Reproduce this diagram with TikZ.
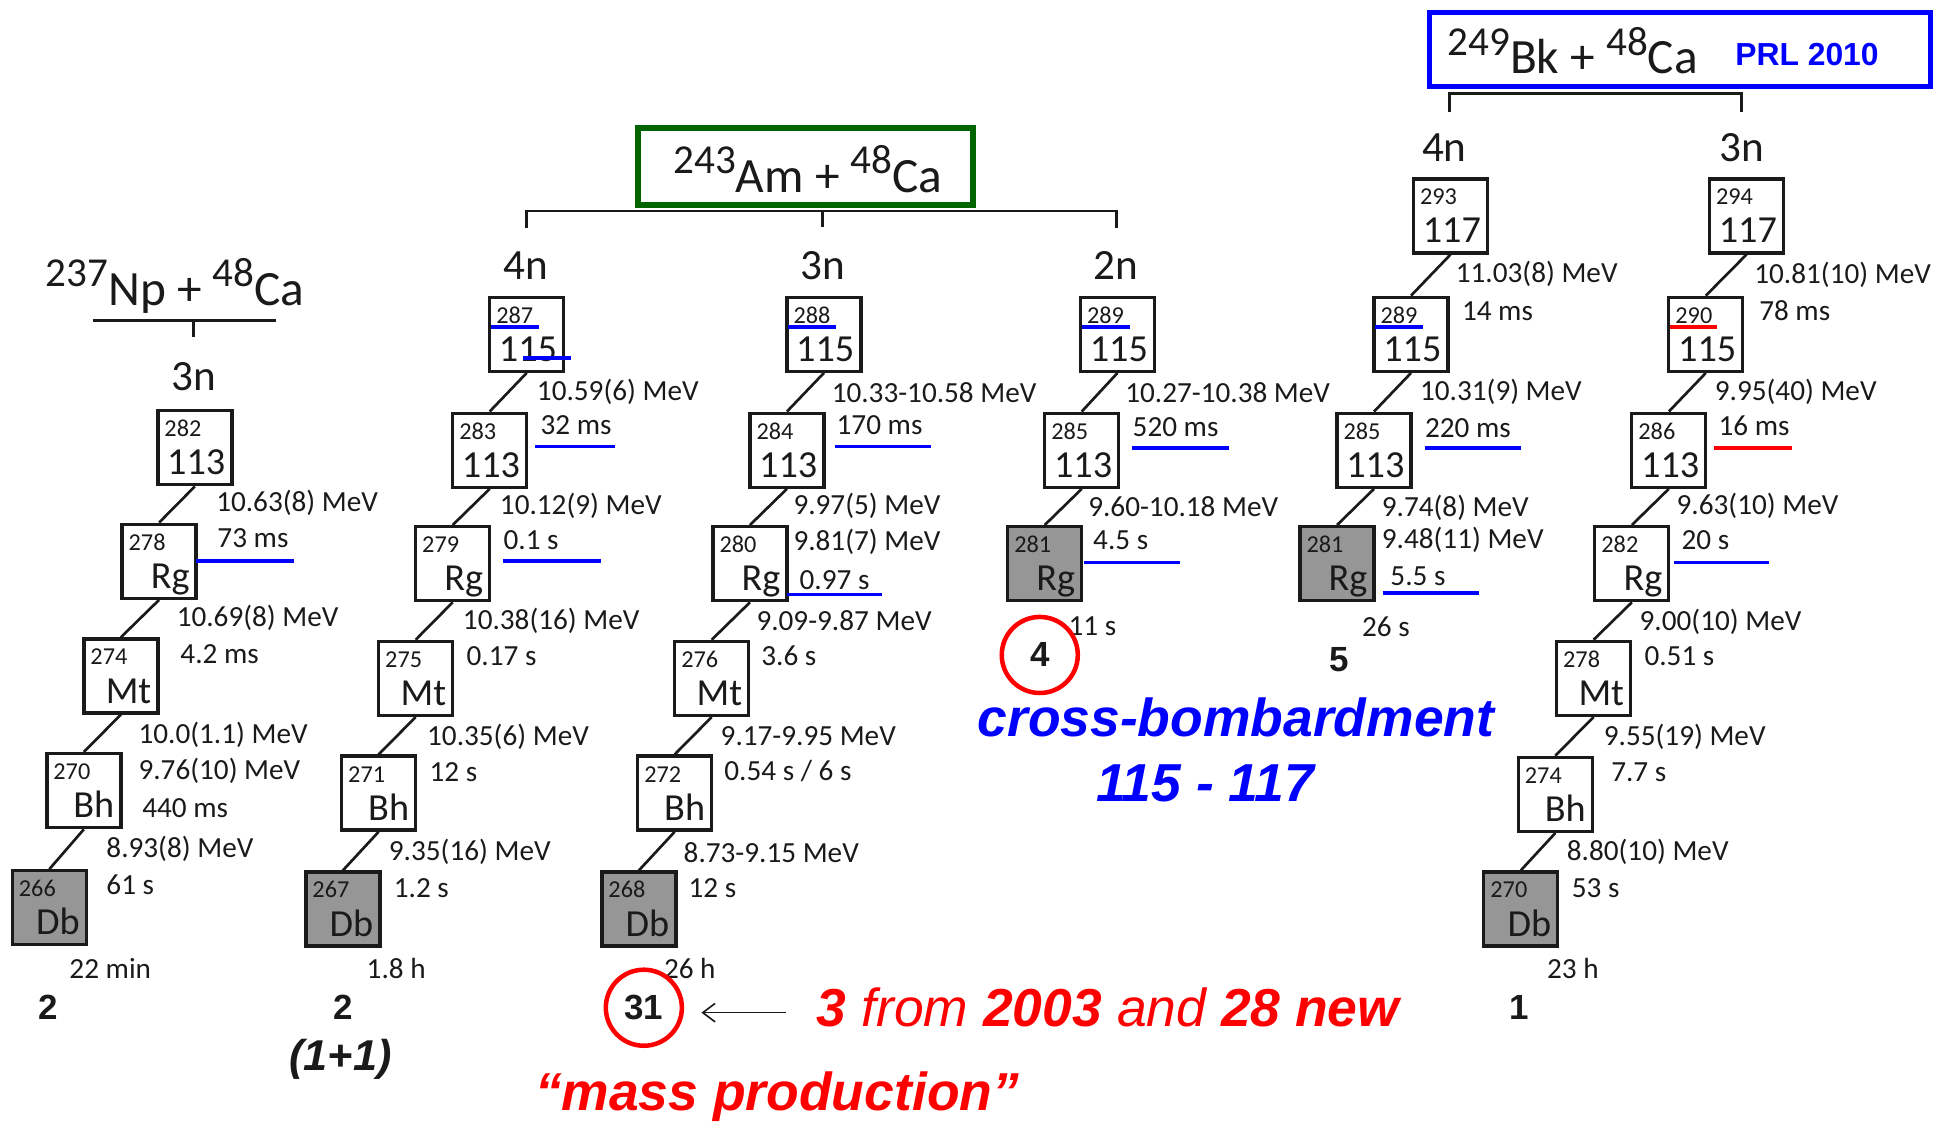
\documentclass[tikz,border=0pt]{standalone}
\usepackage{fontspec}
\setmainfont{Carlito}
\newfontfamily\arialf{Liberation Sans}
\usetikzlibrary{arrows.meta}
\definecolor{boxgray}{RGB}{150,150,150}
\definecolor{dgreen}{RGB}{0,100,0}
\definecolor{pblue}{RGB}{0,0,255}
\definecolor{pred}{RGB}{255,0,0}
\definecolor{ink}{RGB}{26,26,26}
\newcommand{\isot}[1]{{\fontsize{20}{22}\selectfont\raisebox{9pt}{#1}}}
\newcommand{\nuc}[6][nbox]{%
  \node[#1] (#2) at (#3+30,#4+30) {};
  \node[massn] (#2m) at (#3+5,#4+21) {#5};
  \node[elemn] (#2e) at (#3+55,#4+52) {#6};}
\newcommand{\lab}[4]{\node[lbl] (#1) at (#2,#3) {#4};}
\begin{document}
\begin{tikzpicture}[x=0.6pt,y=-0.6pt,
  nbox/.style={draw=ink, line width=1.6pt, minimum width=36pt, minimum height=36pt, inner sep=0pt},
  gbox/.style={nbox, fill=boxgray},
  massn/.style={anchor=base west, inner sep=0pt, text=ink, font=\fontsize{11.8}{13}\selectfont},
  elemn/.style={anchor=base east, inner sep=0pt, text=ink, font=\fontsize{18.6}{20}\selectfont},
  lbl/.style={anchor=west, inner sep=0pt, text=ink, font=\fontsize{14.2}{16}\selectfont},
  chn/.style={line width=1.3pt, draw=ink},
  bl/.style={line width=1.8pt, draw=pblue},
  rl/.style={line width=1.8pt, draw=pred},
  brk/.style={line width=1.3pt, draw=ink},
  chan/.style={font=\fontsize{21}{24}\selectfont, inner sep=0pt, text=ink},
  numb/.style={font=\arialf\bfseries\fontsize{17}{19}\selectfont, inner sep=0pt, text=ink},
  ttl/.style={font=\fontsize{24}{26}\selectfont, inner sep=0pt, text=ink},
  big/.style={font=\arialf\bfseries\itshape\fontsize{26}{30}\selectfont, inner sep=0pt},
  rc/.style={circle, draw=pred, line width=2.2pt, minimum size=37pt, inner sep=0pt, numb}
]
\useasboundingbox (0,0) rectangle (1568,910);

% ---------- titles and brackets ----------
\node[ttl] (np) at (142,232) {\isot{237}Np + \isot{48}Ca};
\coordinate (npL) at (75,260); \coordinate (npR) at (224,260);
\coordinate (npT) at (157,260); \coordinate (npB) at (157,273);
\draw[brk] (npL) -- (npR); \draw[brk] (npT) -- (npB);
\node[chan] (np3) at (157,305) {3n};

\node[draw=dgreen, line width=3pt, minimum width=163.2pt, minimum height=37.2pt, inner sep=0pt] (amb) at (653,135) {};
\node[ttl] (am) at (655,137) {\isot{243}Am + \isot{48}Ca};
\coordinate (amL) at (427,171); \coordinate (amR) at (905,171); \coordinate (amM) at (667,171);
\coordinate (amL2) at (427,185); \coordinate (amR2) at (905,185); \coordinate (amM2) at (667,184);
\draw[brk] (amL2) -- (amL) -- (amR) -- (amR2); \draw[brk] (amM) -- (amM2);
\node[chan] (am4) at (426,215) {4n};
\node[chan] (am3) at (667,215) {3n};
\node[chan] (am2) at (905,215) {2n};

\node[draw=pblue, line width=2.4pt, minimum width=243.6pt, minimum height=36pt, inner sep=0pt] (bkb) at (1362,40) {};
\node[ttl] (bk) at (1275,41) {\isot{249}Bk + \isot{48}Ca};
\node[font=\arialf\bfseries\fontsize{15.5}{17}\selectfont, text=pblue, inner sep=0pt] (prl) at (1465,44) {PRL 2010};
\coordinate (bkL) at (1175,76); \coordinate (bkR) at (1412,76);
\coordinate (bkL2) at (1175,91); \coordinate (bkR2) at (1412,91);
\draw[brk] (bkL2) -- (bkL) -- (bkR) -- (bkR2);
\node[chan] (bk4) at (1171,120) {4n};
\node[chan] (bk3) at (1412,120) {3n};

% ---------- chain 1 : Np 3n ----------
\nuc{a1}{128}{333}{282}{113}
\nuc{b1}{99}{425}{278}{Rg}
\nuc{c1}{68}{518}{274}{Mt}
\nuc{d1}{38}{611}{270}{Bh}
\nuc[gbox]{e1}{10}{706}{266}{Db}
\draw[chn] (a1.south) -- (b1.north);
\draw[chn] (b1.south) -- (c1.north);
\draw[chn] (c1.south) -- (d1.north);
\draw[chn] (d1.south) -- (e1.north);
\lab{l1a}{175}{408}{10.63(8) MeV}
\lab{l1b}{176}{436}{73 ms}
\draw[bl] (159,455) -- (238,455);
\lab{l1c}{143}{501}{10.69(8) MeV}
\lab{l1d}{146}{530}{4.2 ms}
\lab{l1e}{112}{596}{10.0(1.1) MeV}
\lab{l1f}{112}{625}{9.76(10) MeV}
\lab{l1g}{115}{655}{440 ms}
\lab{l1h}{86}{688}{8.93(8) MeV}
\lab{l1i}{86}{717}{61 s}
\lab{l1j}{56}{785}{22 min}
\node[numb] (n1) at (39,817) {2};

% ---------- chain 2 : Am 4n ----------
\nuc{a2}{397}{241}{287}{115}
\nuc{b2}{367}{335}{283}{113}
\nuc{c2}{337}{427}{279}{Rg}
\nuc{d2}{307}{520}{275}{Mt}
\nuc{e2}{277}{613}{271}{Bh}
\nuc[gbox]{f2}{248}{707}{267}{Db}
\draw[chn] (a2.south) -- (b2.north);
\draw[chn] (b2.south) -- (c2.north);
\draw[chn] (c2.south) -- (d2.north);
\draw[chn] (d2.south) -- (e2.north);
\draw[chn] (e2.south) -- (f2.north);
\draw[bl] (398,265) -- (437,265);
\draw[bl] (424,290.5) -- (463,290.5);
\lab{l2a}{435}{318}{10.59(6) MeV}
\lab{l2b}{438}{345}{32 ms}
\draw[bl] (434,362) -- (499,362);
\lab{l2c}{405}{410}{10.12(9) MeV}
\lab{l2d}{408}{438}{0.1 s}
\draw[bl] (408,455) -- (487,455);
\lab{l2e}{375}{503}{10.38(16) MeV}
\lab{l2f}{378}{532}{0.17 s}
\lab{l2g}{346}{597}{10.35(6) MeV}
\lab{l2h}{348}{626}{12 s}
\lab{l2i}{315}{691}{9.35(16) MeV}
\lab{l2j}{319}{720}{1.2 s}
\lab{l2k}{297}{785}{1.8 h}
\node[numb] (n2) at (278,817) {2};
\node[font=\arialf\bfseries\itshape\fontsize{21}{24}\selectfont, inner sep=0pt, text=ink] (n2b) at (276,859) {(1+1)};

% ---------- chain 3 : Am 3n ----------
\nuc{a3}{638}{241}{288}{115}
\nuc{b3}{608}{335}{284}{113}
\nuc{c3}{578}{427}{280}{Rg}
\nuc{d3}{547}{520}{276}{Mt}
\nuc{e3}{517}{613}{272}{Bh}
\nuc[gbox]{f3}{488}{707}{268}{Db}
\draw[chn] (a3.south) -- (b3.north);
\draw[chn] (b3.south) -- (c3.north);
\draw[chn] (c3.south) -- (d3.north);
\draw[chn] (d3.south) -- (e3.north);
\draw[chn] (e3.south) -- (f3.north);
\draw[bl] (639,265) -- (678,265);
\lab{l3a}{674}{318}{10.33-10.58 MeV}
\lab{l3b}{678}{345}{170 ms}
\draw[bl] (677,362) -- (755,362);
\lab{l3c}{643}{410}{9.97(5) MeV}
\lab{l3d}{643}{439}{9.81(7) MeV}
\lab{l3e}{648}{470}{0.97 s}
\draw[bl] (638,482) -- (715,482);
\lab{l3f}{613}{503}{9.09-9.87 MeV}
\lab{l3g}{617}{532}{3.6 s}
\lab{l3h}{584}{597}{9.17-9.95 MeV}
\lab{l3i}{587}{625}{0.54 s / 6 s}
\lab{l3j}{554}{691}{8.73-9.15 MeV}
\lab{l3k}{558}{720}{12 s}
\lab{l3l}{538}{785}{26 h}
\node[rc] (c31) at (522,817) {31};

% ---------- chain 4 : Am 2n ----------
\nuc{a4}{876}{241}{289}{115}
\nuc{b4}{847}{335}{285}{113}
\nuc[gbox]{c4}{817}{427}{281}{Rg}
\draw[chn] (a4.south) -- (b4.north);
\draw[chn] (b4.south) -- (c4.north);
\draw[bl] (877,265) -- (916,265);
\lab{l4a}{912}{318}{10.27-10.38 MeV}
\lab{l4b}{918}{346}{520 ms}
\draw[bl] (918,363) -- (996,363);
\lab{l4c}{882}{411}{9.60-10.18 MeV}
\lab{l4d}{886}{438}{4.5 s}
\draw[bl] (879,456) -- (957,456);
\lab{l4e}{866}{508}{11 s}
\node[rc] (c4n) at (843,531) {4};

% ---------- chain 5 : Bk 4n ----------
\nuc{a5}{1146}{145}{293}{117}
\nuc{b5}{1114}{241}{289}{115}
\nuc{c5}{1084}{335}{285}{113}
\nuc[gbox]{d5}{1054}{427}{281}{Rg}
\draw[chn] (a5.south) -- (b5.north);
\draw[chn] (b5.south) -- (c5.north);
\draw[chn] (c5.south) -- (d5.north);
\draw[bl] (1115,265) -- (1154,265);
\lab{l5a}{1180}{222}{11.03(8) MeV}
\lab{l5b}{1185}{252}{14 ms}
\lab{l5c}{1151}{318}{10.31(9) MeV}
\lab{l5d}{1155}{347}{220 ms}
\draw[bl] (1155,363) -- (1233,363);
\lab{l5e}{1120}{412}{9.74(8) MeV}
\lab{l5f}{1120}{438}{9.48(11) MeV}
\lab{l5g}{1127}{467}{5.5 s}
\draw[bl] (1121,481) -- (1199,481);
\lab{l5h}{1104}{508}{26 s}
\node[numb] (n5) at (1086,535) {5};

% ---------- chain 6 : Bk 3n ----------
\nuc{a6}{1386}{145}{294}{117}
\nuc{b6}{1353}{241}{290}{115}
\nuc{c6}{1323}{335}{286}{113}
\nuc{d6}{1293}{427}{282}{Rg}
\nuc{e6}{1262}{520}{278}{Mt}
\nuc{f6}{1231}{614}{274}{Bh}
\nuc[gbox]{g6}{1203}{707}{270}{Db}
\draw[chn] (a6.south) -- (b6.north);
\draw[chn] (b6.south) -- (c6.north);
\draw[chn] (c6.south) -- (d6.north);
\draw[chn] (d6.south) -- (e6.north);
\draw[chn] (e6.south) -- (f6.north);
\draw[chn] (f6.south) -- (g6.north);
\draw[rl] (1354,265) -- (1392,265);
\lab{l6a}{1422}{223}{10.81(10) MeV}
\lab{l6b}{1426}{252}{78 ms}
\lab{l6c}{1390}{318}{9.95(40) MeV}
\lab{l6d}{1393}{345}{16 ms}
\draw[rl] (1390,363) -- (1453,363);
\lab{l6e}{1359}{410}{9.63(10) MeV}
\lab{l6f}{1363}{438}{20 s}
\draw[bl] (1357,456) -- (1434,456);
\lab{l6g}{1329}{504}{9.00(10) MeV}
\lab{l6h}{1333}{532}{0.51 s}
\lab{l6i}{1300}{597}{9.55(19) MeV}
\lab{l6j}{1306}{626}{7.7 s}
\lab{l6k}{1270}{691}{8.80(10) MeV}
\lab{l6l}{1274}{720}{53 s}
\lab{l6m}{1254}{785}{23 h}
\node[numb] (n6) at (1232,817) {1};

% ---------- comments ----------
\node[big, text=pblue] (cb) at (1002,582) {cross-bombardment};
\node[big, text=pblue] (cb2) at (977,635) {115 - 117};
\node[anchor=west, inner sep=0pt, text=pred, font=\arialf\itshape\fontsize{26}{30}\selectfont] (note) at (662,817) {{\bfseries 3} from {\bfseries 2003} and {\bfseries 28 new}};
\draw[line width=0.8pt, draw=ink, -{Straight Barb[length=6pt,width=9pt]}, shorten >=8.4pt] ([xshift=-15pt,yshift=-2.4pt]note.west) -- ([yshift=-2.4pt]c31.east);
\node[big, text=pred] (mp) at (630,889) {“mass production”};
\end{tikzpicture}
\end{document}
